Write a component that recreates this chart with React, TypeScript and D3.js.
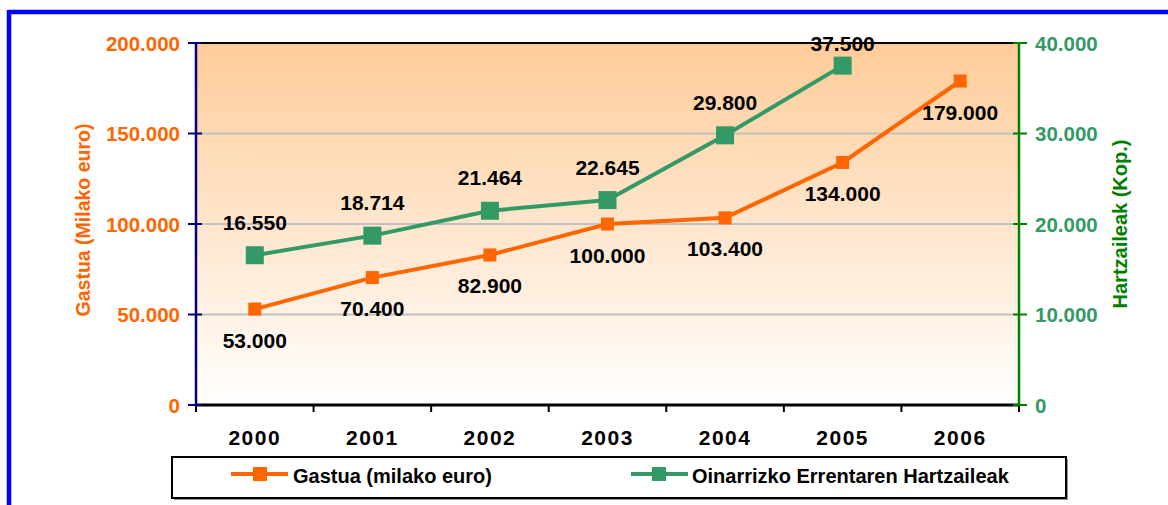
import React from "react";
import * as d3 from "d3";

const years = ["2000", "2001", "2002", "2003", "2004", "2005", "2006"];
const gastua = [53000, 70400, 82900, 100000, 103400, 134000, 179000];
const hartzaileak = [16550, 18714, 21464, 22645, 29800, 37500, null];
const leftTicks = [0, 50000, 100000, 150000, 200000];
const rightTicks = [0, 10000, 20000, 30000, 40000];
const seriesNames = ["Gastua (milako euro)", "Oinarrizko Errentaren Hartzaileak"];
const axisTitles = ["Gastua (Milako euro)", "Hartzaileak (Kop.)"];

const W = 1168, H = 505;
const L = 196, R = 1019, T = 43, B = 405;
const ORANGE = "#FF6600";
const GREEN = "#339966";
const FONT = "'Liberation Sans', Arial, sans-serif";

const fmt = (v: number) => (v === 0 ? "0" : d3.format(",")(v).replace(/,/g, "."));

export default function App() {
  const x = d3.scaleBand<string>().domain(years).range([L, R]).padding(0);
  const cx = (y: string) => (x(y) as number) + x.bandwidth() / 2;
  const yL = d3.scaleLinear().domain([0, 200000]).range([B, T]);
  const yR = d3.scaleLinear().domain([0, 40000]).range([B, T]);

  const gPts = years.map((yr, i) => ({ x: cx(yr), y: yL(gastua[i]), v: gastua[i] }));
  const hPts = years
    .map((yr, i) => ({ yr, v: hartzaileak[i] }))
    .filter((d) => d.v != null)
    .map((d) => ({ x: cx(d.yr), y: yR(d.v as number), v: d.v as number }));

  const line = d3.line<{ x: number; y: number }>().x((d) => d.x).y((d) => d.y);
  const boundaries = years.map((yr) => x(yr) as number).concat([R]);

  return (
    <svg width={W} height={H} style={{ position: "absolute", left: 0, top: 0, fontFamily: FONT }}>
      <defs>
        <linearGradient id="bg" x1="0" y1="0" x2="0" y2="1">
          <stop offset="0" stopColor="#FFCC99" />
          <stop offset="1" stopColor="#FFFFFF" />
        </linearGradient>
      </defs>
      <rect x={0} y={0} width={W} height={H} fill="#fff" />
      {/* outer blue frame */}
      <line x1={9} y1={12} x2={W} y2={12} stroke="#0000FF" strokeWidth={4.5} />
      <line x1={9} y1={10} x2={9} y2={H} stroke="#0000FF" strokeWidth={4.5} />

      {/* plot area */}
      <rect x={L} y={T} width={R - L} height={B - T} fill="url(#bg)" />
      {leftTicks.filter((t) => t > 0 && t < 200000).map((t) => (
        <line key={t} x1={L} x2={R} y1={yL(t)} y2={yL(t)} stroke="#C0C0C0" strokeWidth={2} />
      ))}
      <line x1={L} x2={R} y1={T} y2={T} stroke="#000" strokeWidth={2} />

      {/* x axis */}
      <line x1={L} x2={R} y1={B} y2={B} stroke="#000" strokeWidth={3} />
      {boundaries.map((b, i) => (
        <line key={i} x1={b} x2={b} y1={B} y2={B + 7} stroke="#000" strokeWidth={2} />
      ))}
      {years.map((yr) => (
        <text key={yr} x={cx(yr)} y={B + 32} textAnchor="middle" dominantBaseline="central"
          fontSize={21} fontWeight="bold" letterSpacing={1.5} fill="#000">{yr}</text>
      ))}

      {/* left axis */}
      <line x1={L} x2={L} y1={T} y2={B + 1} stroke="#000080" strokeWidth={2.5} />
      {leftTicks.map((t) => (
        <g key={t}>
          <line x1={L - 8} x2={L + 6} y1={yL(t)} y2={yL(t)} stroke="#000080" strokeWidth={2} />
          <text x={180} y={yL(t)} textAnchor="end" dominantBaseline="central" fontSize={20.5}
            fontWeight="bold" fill={ORANGE}>{fmt(t)}</text>
        </g>
      ))}
      <text transform={`translate(83,${(T + B) / 2 - 4}) rotate(-90)`} textAnchor="middle"
        dominantBaseline="central" fontSize={19.5} fontWeight="bold" fill={ORANGE}>{axisTitles[0]}</text>

      {/* right axis */}
      <line x1={R} x2={R} y1={T} y2={B + 1} stroke="#008000" strokeWidth={2.5} />
      {rightTicks.map((t) => (
        <g key={t}>
          <line x1={R - 6} x2={R + 8} y1={yR(t)} y2={yR(t)} stroke="#008000" strokeWidth={2} />
          <text x={1035} y={yR(t)} textAnchor="start" dominantBaseline="central" fontSize={20.5}
            fontWeight="bold" fill={GREEN}>{fmt(t)}</text>
        </g>
      ))}
      <text transform={`translate(1120,${(T + B) / 2}) rotate(-90)`} textAnchor="middle"
        dominantBaseline="central" fontSize={20} fontWeight="bold" fill="#008000">{axisTitles[1]}</text>

      {/* series */}
      <path d={line(hPts) as string} fill="none" stroke={GREEN} strokeWidth={4} />
      <path d={line(gPts) as string} fill="none" stroke={ORANGE} strokeWidth={4} />
      {hPts.map((p, i) => (
        <rect key={i} x={p.x - 9} y={p.y - 9} width={18} height={18} fill={GREEN} />
      ))}
      {gPts.map((p, i) => (
        <rect key={i} x={p.x - 6.5} y={p.y - 6.5} width={13} height={13} fill={ORANGE} />
      ))}
      {hPts.map((p, i) => (
        <text key={i} x={p.x} y={Math.max(p.y - 33, T)} textAnchor="middle" dominantBaseline="central"
          fontSize={21} fontWeight="bold" fill="#000">{fmt(p.v)}</text>
      ))}
      {gPts.map((p, i) => (
        <text key={i} x={p.x} y={p.y + 31} textAnchor="middle" dominantBaseline="central"
          fontSize={21} fontWeight="bold" fill="#000">{fmt(p.v)}</text>
      ))}

      {/* legend */}
      <rect x={174} y={459} width={894} height={41} fill="#999" />
      <rect x={172} y={457} width={894} height={41} fill="#fff" stroke="#000" strokeWidth={2} />
      <line x1={231} x2={288} y1={474} y2={474} stroke={ORANGE} strokeWidth={4} />
      <rect x={253} y={467} width={14} height={14} fill={ORANGE} />
      <text x={293} y={476} dominantBaseline="central" fontSize={20} fontWeight="bold" fill="#000">{seriesNames[0]}</text>
      <line x1={631} x2={688} y1={474} y2={474} stroke={GREEN} strokeWidth={4} />
      <rect x={652} y={467} width={14} height={14} fill={GREEN} />
      <text x={692} y={476} dominantBaseline="central" fontSize={20} fontWeight="bold" fill="#000">{seriesNames[1]}</text>
    </svg>
  );
}
